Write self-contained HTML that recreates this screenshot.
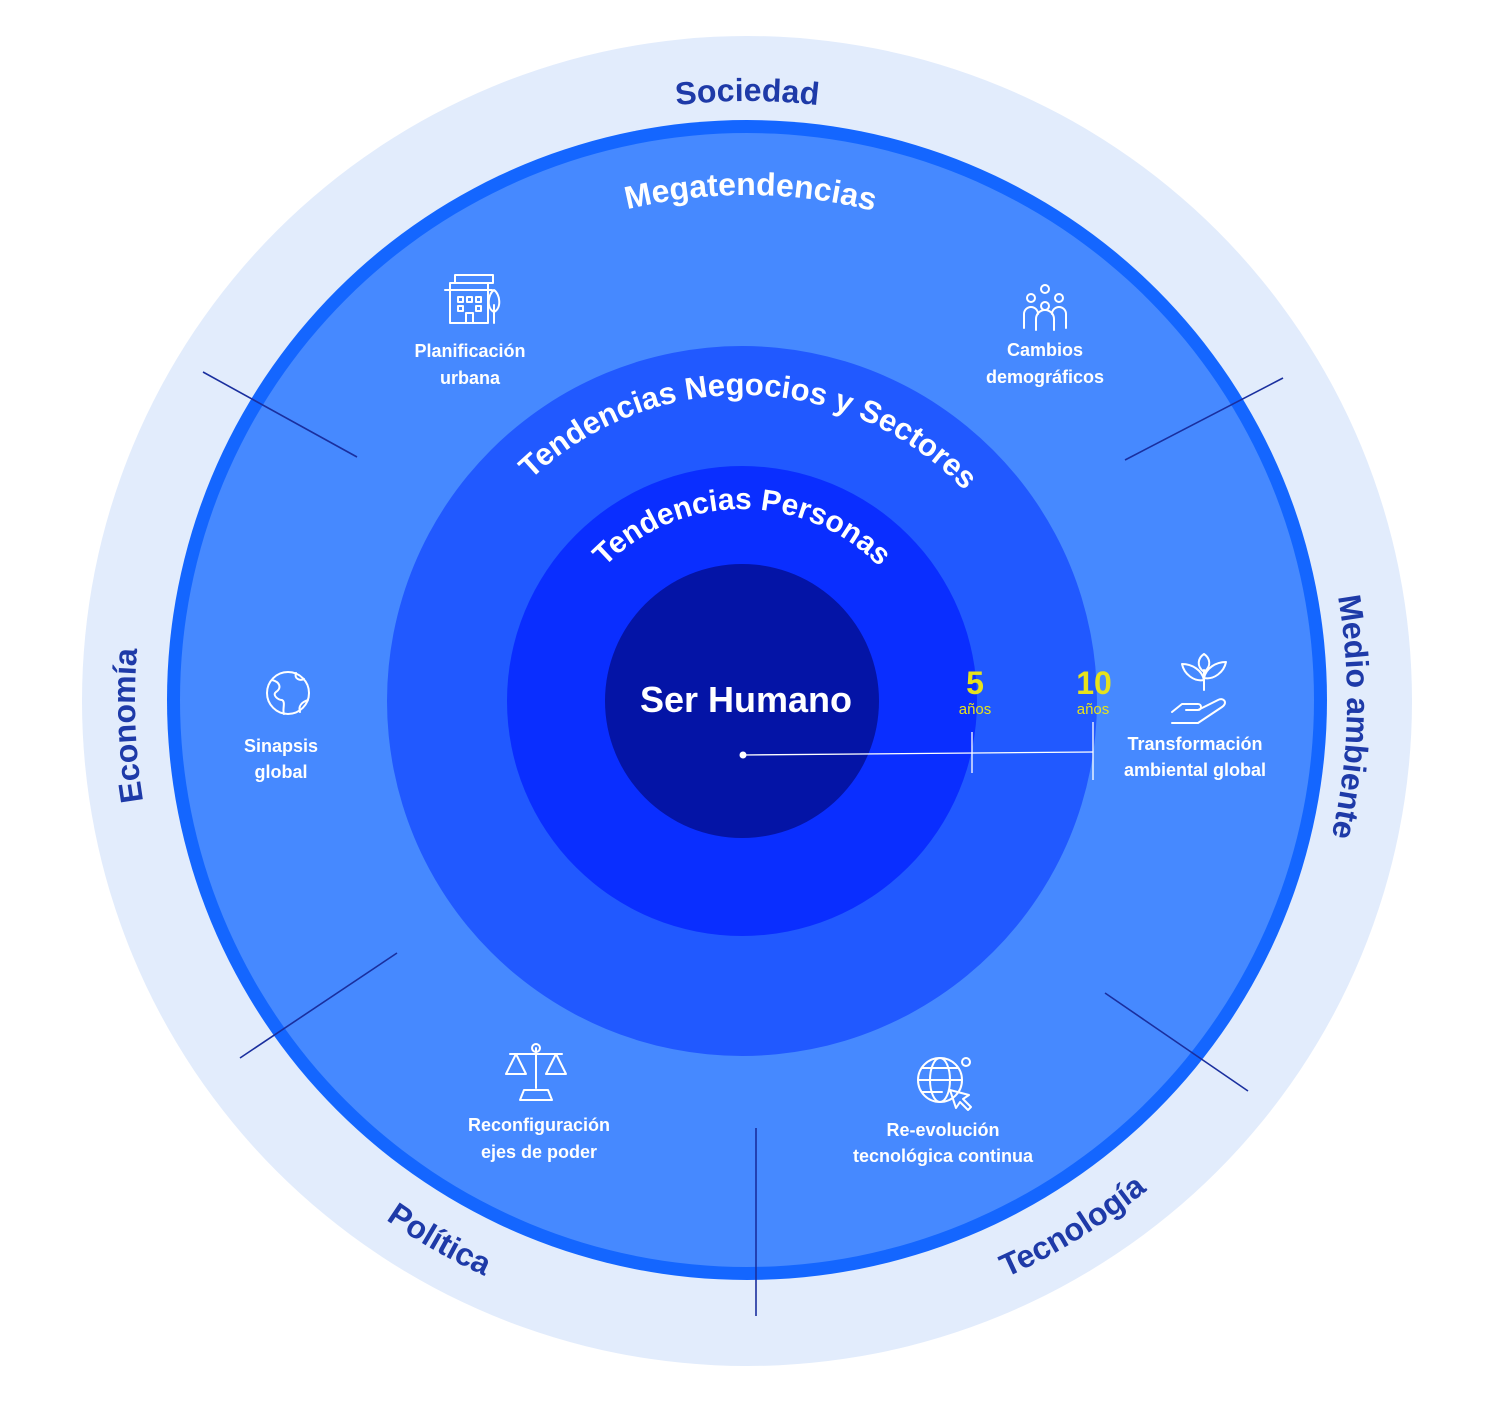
<!DOCTYPE html>
<html><head><meta charset="utf-8"><style>
html,body{margin:0;padding:0;background:#fff;}
svg{display:block;}
text{font-family:"Liberation Sans",sans-serif;}
</style></head><body>
<svg width="1494" height="1403" viewBox="0 0 1494 1403" xmlns="http://www.w3.org/2000/svg">
<defs>
<path id="cw600" d="M747,1301 A600,600 0 1 1 747,101 A600,600 0 1 1 747,1301"/>
<path id="cw612" d="M747,1313 A612,612 0 1 1 747,89 A612,612 0 1 1 747,1313"/>
<path id="bot" d="M115,701 A632,632 0 0 0 1379,701"/>
<path id="cw506" d="M747,1207 A506,506 0 1 1 747,195 A506,506 0 1 1 747,1207"/>
<path id="cw306" d="M742,1007 A306,306 0 1 1 742,395 A306,306 0 1 1 742,1007"/>
<path id="cw192" d="M742,893 A192,192 0 1 1 742,509 A192,192 0 1 1 742,893"/>
</defs>
<circle cx="747" cy="701" r="665" fill="#e2ecfc"/>
<circle cx="747" cy="700" r="580" fill="#1466ff"/>
<circle cx="747" cy="700" r="567" fill="#4689ff"/>
<circle cx="742" cy="701" r="355" fill="#2159ff"/>
<circle cx="742" cy="701" r="235" fill="#0a2eff"/>
<circle cx="742" cy="701" r="137" fill="#0414a6"/>

<g stroke="#1a2f9e" stroke-width="1.6">
<line x1="203" y1="372" x2="357" y2="457"/>
<line x1="1283" y1="378" x2="1125" y2="460"/>
<line x1="397" y1="953" x2="240" y2="1058"/>
<line x1="1105" y1="993" x2="1248" y2="1091"/>
<line x1="756" y1="1128" x2="756" y2="1316"/>
</g>

<g fill="#1e3aa8" font-weight="bold" font-size="32">
<text><textPath href="#cw612" startOffset="937" text-anchor="middle">Economía</textPath></text>
<text><textPath href="#cw600" startOffset="1885" text-anchor="middle">Sociedad</textPath></text>
<text><textPath href="#cw600" startOffset="2843" text-anchor="middle">Medio ambiente</textPath></text>
<text><textPath href="#bot" startOffset="665" text-anchor="middle">Política</textPath></text>
<text><textPath href="#bot" startOffset="1343" text-anchor="middle">Tecnología</textPath></text>
</g>
<g fill="#fff" font-weight="bold">
<text font-size="32"><textPath href="#cw506" startOffset="1593" text-anchor="middle">Megatendencias</textPath></text>
<text font-size="31"><textPath href="#cw306" startOffset="969" text-anchor="middle">Tendencias Negocios y Sectores</textPath></text>
<text font-size="30"><textPath href="#cw192" startOffset="603" text-anchor="middle">Tendencias Personas</textPath></text>
<text x="746" y="712" font-size="36" text-anchor="middle">Ser Humano</text>
</g>

<g fill="#fff" font-size="18" font-weight="bold" text-anchor="middle">
<text x="470" y="357">Planificación</text><text x="470" y="384">urbana</text>
<text x="1045" y="356">Cambios</text><text x="1045" y="383">demográficos</text>
<text x="281" y="752">Sinapsis</text><text x="281" y="778">global</text>
<text x="1195" y="750">Transformación</text><text x="1195" y="776">ambiental global</text>
<text x="539" y="1131">Reconfiguración</text><text x="539" y="1158">ejes de poder</text>
<text x="943" y="1136">Re-evolución</text><text x="943" y="1162">tecnológica continua</text>
</g>

<g fill="#e6e21c" text-anchor="middle">
<text x="975" y="694" font-size="32" font-weight="bold">5</text>
<text x="975" y="714" font-size="15">años</text>
<text x="1094" y="694" font-size="32" font-weight="bold">10</text>
<text x="1093" y="714" font-size="15">años</text>
</g>
<g stroke="#fff" stroke-width="1.3">
<line x1="743" y1="755" x2="1093" y2="752"/>
<line x1="972" y1="732" x2="972" y2="773"/>
<line x1="1093" y1="722" x2="1093" y2="780"/>
</g>
<circle cx="743" cy="755" r="3.5" fill="#fff"/>

<g fill="none" stroke="#fff" stroke-width="2" stroke-linejoin="round" stroke-linecap="round">
<rect x="450" y="283" width="38" height="40"/><line x1="445" y1="290" x2="492" y2="290"/><rect x="455" y="275" width="38" height="8"/>
<rect x="458" y="297" width="5" height="5"/><rect x="467" y="297" width="5" height="5"/><rect x="476" y="297" width="5" height="5"/>
<rect x="458" y="306" width="5" height="5"/><rect x="476" y="306" width="5" height="5"/><rect x="466" y="313" width="7" height="10"/>
<path d="M494,323 V305 M494,312 c-8,-4 -6,-18 0,-22 c6,4 8,18 0,22"/>
<circle cx="1045" cy="289" r="4"/><circle cx="1031" cy="298" r="4"/><circle cx="1059" cy="298" r="4"/><circle cx="1045" cy="306" r="4"/>
<path d="M1024,328 v-14 a7,7 0 0 1 14,0 M1052,314 a7,7 0 0 1 14,0 v14 M1036,330 v-11 a9,9 0 0 1 18,0 v11"/>
<circle cx="288" cy="693" r="21"/>
<path d="M272,680 c8,2 10,8 4,12 c-4,3 2,8 6,8 c4,2 0,10 2,14 M296,673 c-2,6 4,8 8,6 M300,712 c-2,-6 2,-10 8,-12"/>
<path d="M1172,712 l10,-8 h16 c4,0 4,6 0,6 h-12 M1198,710 l20,-10 c6,-3 10,3 4,7 l-24,16 h-26"/>
<path d="M1204,690 v-20 M1204,680 c-10,2 -20,-6 -22,-16 c10,0 20,6 22,16 M1204,678 c10,2 20,-6 22,-16 c-10,0 -20,6 -22,16 M1204,672 c-8,-6 -6,-14 0,-18 c6,4 8,12 0,18"/>
<path d="M536,1048 v40 M510,1054 h52 M516,1054 l-10,20 h20 z M556,1054 l-10,20 h20 z M524,1090 h24 l4,10 h-32 z M536,1048 m-4,0 a4,4 0 1 0 8,0 a4,4 0 1 0 -8,0"/>
<circle cx="940" cy="1080" r="22"/><ellipse cx="940" cy="1080" rx="10" ry="22"/><line x1="918" y1="1080" x2="962" y2="1080"/>
<path d="M922,1068 h36 M922,1092 h20"/>
<circle cx="966" cy="1062" r="4"/><path d="M950,1090 l6,18 l4,-6 l8,8 l3,-3 l-8,-8 l6,-4 z"/>
</g>
</svg>
</body></html>
